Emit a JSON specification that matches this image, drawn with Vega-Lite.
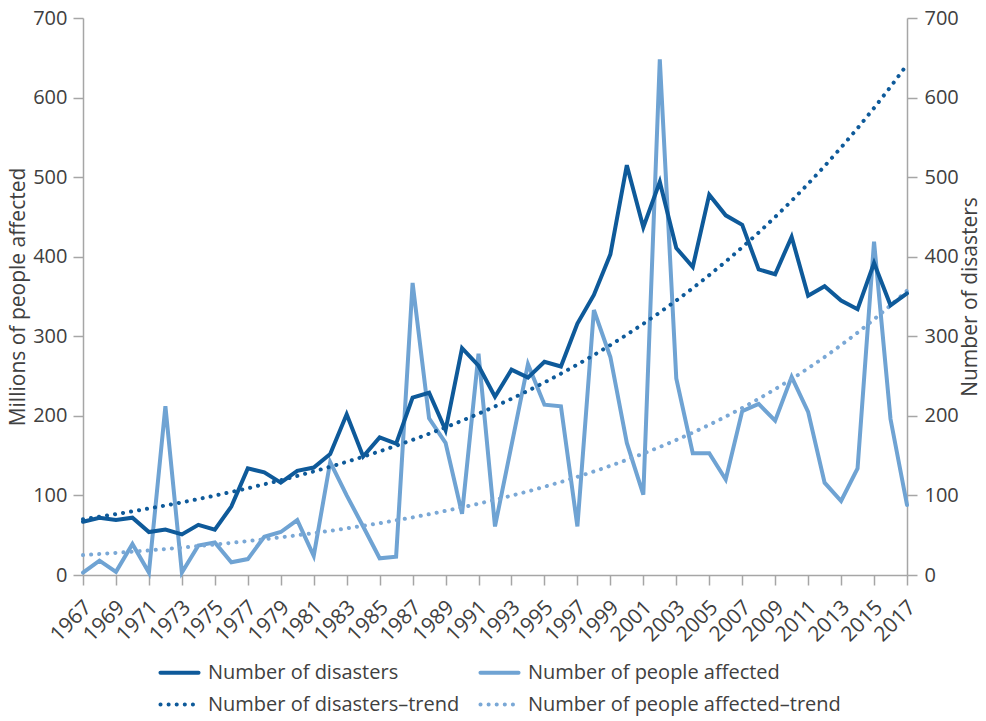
{
  "$schema": "https://vega.github.io/schema/vega-lite/v6.json",
  "width": 824,
  "height": 557,
  "autosize": {"type": "none"},
  "padding": {"left": 83, "top": 18, "right": 79, "bottom": 146},
  "config": {
    "view": {"stroke": null},
    "font": "Open Sans",
    "axis": {
      "labelFont": "Open Sans",
      "titleFont": "Open Sans",
      "labelColor": "#404040",
      "titleColor": "#404040",
      "domainColor": "#a6a6a6",
      "tickColor": "#a6a6a6",
      "domainWidth": 1.5,
      "tickWidth": 1.5,
      "tickSize": 10,
      "grid": false,
      "labelFontSize": 20,
      "titleFontSize": 21,
      "titleFontWeight": "normal"
    }
  },
  "data": {
    "values": [
      {"year": 1967, "d": 67, "a": 3, "dt": 70.0, "at": 25.0},
      {"year": 1968, "d": 72, "a": 18, "dt": 73.2, "at": 26.4},
      {"year": 1969, "d": 69, "a": 4, "dt": 76.5, "at": 27.8},
      {"year": 1970, "d": 72, "a": 39, "dt": 80.0, "at": 29.3},
      {"year": 1971, "d": 54, "a": 3, "dt": 83.6, "at": 30.9},
      {"year": 1972, "d": 57, "a": 212, "dt": 87.4, "at": 32.6},
      {"year": 1973, "d": 51, "a": 3, "dt": 91.3, "at": 34.4},
      {"year": 1974, "d": 63, "a": 37, "dt": 95.5, "at": 36.3},
      {"year": 1975, "d": 57, "a": 41, "dt": 99.8, "at": 38.3},
      {"year": 1976, "d": 86, "a": 16, "dt": 104.3, "at": 40.4},
      {"year": 1977, "d": 134, "a": 20, "dt": 109.0, "at": 42.6},
      {"year": 1978, "d": 129, "a": 48, "dt": 114.0, "at": 44.9},
      {"year": 1979, "d": 116, "a": 54, "dt": 119.1, "at": 47.3},
      {"year": 1980, "d": 131, "a": 69, "dt": 124.5, "at": 49.9},
      {"year": 1981, "d": 135, "a": 24, "dt": 130.2, "at": 52.7},
      {"year": 1982, "d": 152, "a": 142, "dt": 136.0, "at": 55.5},
      {"year": 1983, "d": 202, "a": 100, "dt": 142.2, "at": 58.6},
      {"year": 1984, "d": 149, "a": 61, "dt": 148.7, "at": 61.8},
      {"year": 1985, "d": 173, "a": 21, "dt": 155.4, "at": 65.1},
      {"year": 1986, "d": 165, "a": 23, "dt": 162.4, "at": 68.7},
      {"year": 1987, "d": 223, "a": 367, "dt": 169.8, "at": 72.4},
      {"year": 1988, "d": 229, "a": 197, "dt": 177.5, "at": 76.4},
      {"year": 1989, "d": 182, "a": 166, "dt": 185.5, "at": 80.6},
      {"year": 1990, "d": 285, "a": 77, "dt": 193.9, "at": 85.0},
      {"year": 1991, "d": 263, "a": 278, "dt": 202.7, "at": 89.6},
      {"year": 1992, "d": 224, "a": 61, "dt": 211.9, "at": 94.5},
      {"year": 1993, "d": 258, "a": 163, "dt": 221.5, "at": 99.7},
      {"year": 1994, "d": 248, "a": 265, "dt": 231.5, "at": 105.1},
      {"year": 1995, "d": 268, "a": 214, "dt": 242.0, "at": 110.9},
      {"year": 1996, "d": 262, "a": 212, "dt": 253.0, "at": 116.9},
      {"year": 1997, "d": 316, "a": 61, "dt": 264.4, "at": 123.3},
      {"year": 1998, "d": 352, "a": 333, "dt": 276.4, "at": 130.1},
      {"year": 1999, "d": 403, "a": 274, "dt": 288.9, "at": 137.2},
      {"year": 2000, "d": 515, "a": 166, "dt": 302.0, "at": 144.7},
      {"year": 2001, "d": 437, "a": 101, "dt": 315.7, "at": 152.6},
      {"year": 2002, "d": 494, "a": 648, "dt": 330.0, "at": 160.9},
      {"year": 2003, "d": 411, "a": 247, "dt": 344.9, "at": 169.7},
      {"year": 2004, "d": 387, "a": 153, "dt": 360.5, "at": 179.0},
      {"year": 2005, "d": 478, "a": 153, "dt": 376.9, "at": 188.7},
      {"year": 2006, "d": 452, "a": 120, "dt": 393.9, "at": 199.1},
      {"year": 2007, "d": 440, "a": 206, "dt": 411.8, "at": 209.9},
      {"year": 2008, "d": 384, "a": 215, "dt": 430.4, "at": 221.4},
      {"year": 2009, "d": 378, "a": 194, "dt": 449.9, "at": 233.5},
      {"year": 2010, "d": 425, "a": 249, "dt": 470.3, "at": 246.2},
      {"year": 2011, "d": 351, "a": 205, "dt": 491.6, "at": 259.7},
      {"year": 2012, "d": 363, "a": 116, "dt": 513.9, "at": 273.9},
      {"year": 2013, "d": 345, "a": 93, "dt": 537.2, "at": 288.9},
      {"year": 2014, "d": 334, "a": 134, "dt": 561.5, "at": 304.6},
      {"year": 2015, "d": 392, "a": 419, "dt": 586.9, "at": 321.3},
      {"year": 2016, "d": 339, "a": 196, "dt": 613.5, "at": 338.8},
      {"year": 2017, "d": 354, "a": 88, "dt": 641.3, "at": 357.3}
    ]
  },
  "transform": [{"fold": ["d", "a", "dt", "at"], "as": ["series", "value"]}],
  "encoding": {
    "x": {
      "field": "year",
      "type": "quantitative",
      "scale": {"domain": [1967, 2017], "nice": false, "zero": false},
      "axis": {
        "title": null,
        "values": [1967, 1969, 1971, 1973, 1975, 1977, 1979, 1981, 1983, 1985, 1987, 1989, 1991, 1993, 1995, 1997, 1999, 2001, 2003, 2005, 2007, 2009, 2011, 2013, 2015, 2017],
        "format": "d",
        "labelAngle": -45,
        "labelAlign": "right",
        "labelBaseline": "middle",
        "labelFontSize": 21,
        "labelPadding": 19,
        "labelOffset": 5,
        "labelOverlap": false,
        "labelBound": false
      }
    },
    "color": {
      "field": "series",
      "type": "nominal",
      "scale": {
        "domain": ["d", "dt", "a", "at"],
        "range": ["#0e5a9a", "#0e5a9a", "#6fa3d3", "#7aa8d6"]
      },
      "legend": {
        "title": null,
        "orient": "none",
        "legendX": 75,
        "legendY": 633,
        "columns": 2,
        "symbolType": "stroke",
        "symbolSize": 1450,
        "symbolStrokeWidth": 4,
        "labelFont": "Open Sans",
        "labelFontSize": 20,
        "labelColor": "#404040",
        "labelOffset": 7,
        "labelLimit": 400,
        "rowPadding": -4,
        "columnPadding": 12,
        "padding": 0,
        "labelExpr": "datum.value == 'd' ? 'Number of disasters' : datum.value == 'a' ? 'Number of people affected' : datum.value == 'dt' ? 'Number of disasters–trend' : 'Number of people affected–trend'",
        "encode": {"symbols": {"update": {"strokeCap": {"value": "round"}}}}
      }
    },
    "strokeDash": {
      "field": "series",
      "type": "nominal",
      "scale": {
        "domain": ["d", "dt", "a", "at"],
        "range": [[1000, 0], [0.1, 8], [1000, 0], [0.1, 8]]
      }
    }
  },
  "layer": [
    {
      "transform": [{"filter": {"field": "series", "oneOf": ["a", "at"]}}],
      "mark": {"type": "line", "strokeWidth": 4, "strokeCap": "round", "strokeJoin": "miter"},
      "encoding": {
        "y": {
          "field": "value",
          "type": "quantitative",
          "scale": {"domain": [0, 700], "nice": false},
          "axis": {
            "orient": "left",
            "values": [0, 100, 200, 300, 400, 500, 600, 700],
            "title": "Millions of people affected",
            "labelPadding": 6,
            "titlePadding": 4
          }
        }
      }
    },
    {
      "transform": [{"filter": {"field": "series", "oneOf": ["d", "dt"]}}],
      "mark": {"type": "line", "strokeWidth": 4, "strokeCap": "round", "strokeJoin": "miter"},
      "encoding": {
        "y": {
          "field": "value",
          "type": "quantitative",
          "scale": {"domain": [0, 700], "nice": false},
          "axis": {
            "orient": "right",
            "values": [0, 100, 200, 300, 400, 500, 600, 700],
            "title": "Number of disasters",
            "titleAngle": 270,
            "titleBaseline": "top",
            "labelPadding": 7,
            "titlePadding": 1
          }
        }
      }
    }
  ],
  "resolve": {"scale": {"y": "independent"}}
}
